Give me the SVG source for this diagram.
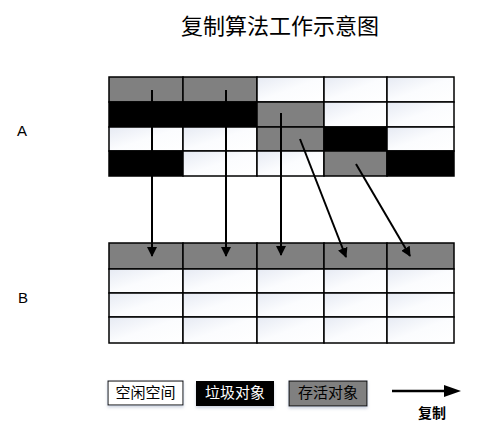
<svg xmlns="http://www.w3.org/2000/svg" width="503" height="429" viewBox="0 0 503 429">
<style>
.cjk{font-family:"Noto Sans CJK SC","Liberation Sans",sans-serif}
.lat{font-family:"Liberation Sans","DejaVu Sans",sans-serif}
.w{fill:url(#wg);stroke:#000;stroke-width:1.5}
.g{fill:#808080;stroke:#000;stroke-width:1.5}
.b{fill:#000;stroke:#000;stroke-width:1.5}
.conn{stroke:#000;stroke-width:2;fill:none;marker-end:url(#ah)}
</style>
<defs>
<linearGradient id="wg" x1="0" y1="0" x2="1" y2="1">
<stop offset="0" stop-color="#e6eaf3"/>
<stop offset="0.5" stop-color="#fbfcfe"/>
<stop offset="1" stop-color="#ffffff"/>
</linearGradient>
<marker id="ah" viewBox="0 0 10 10" refX="9" refY="5" markerWidth="5" markerHeight="5" orient="auto" markerUnits="strokeWidth">
<path d="M0,0 L10,5 L0,10 z" fill="#000"/>
</marker>
<filter id="sh" x="-20%" y="-20%" width="140%" height="160%">
<feDropShadow dx="0" dy="2" stdDeviation="1.5" flood-color="#9aa6c0" flood-opacity="0.5"/>
</filter>
</defs>
<rect width="503" height="429" fill="#fff"/>
<text class="cjk" x="280" y="34" font-size="22" text-anchor="middle">复制算法工作示意图</text>
<text class="lat" x="22" y="136" font-size="15" text-anchor="middle">A</text>
<text class="lat" x="23" y="303" font-size="15" text-anchor="middle">B</text>

<g id="gridA">
<rect class="g" x="109" y="77" width="74" height="25"/>
<rect class="g" x="183" y="77" width="74" height="25"/>
<rect class="w" x="257" y="77" width="67" height="25"/>
<rect class="w" x="324" y="77" width="63" height="25"/>
<rect class="w" x="387" y="77" width="67" height="25"/>
<rect class="b" x="109" y="102" width="74" height="25"/>
<rect class="b" x="183" y="102" width="74" height="25"/>
<rect class="g" x="257" y="102" width="67" height="25"/>
<rect class="w" x="324" y="102" width="63" height="25"/>
<rect class="w" x="387" y="102" width="67" height="25"/>
<rect class="w" x="109" y="127" width="74" height="24"/>
<rect class="w" x="183" y="127" width="74" height="24"/>
<rect class="g" x="257" y="127" width="67" height="24"/>
<rect class="b" x="324" y="127" width="63" height="24"/>
<rect class="w" x="387" y="127" width="67" height="24"/>
<rect class="b" x="109" y="151" width="74" height="25"/>
<rect class="w" x="183" y="151" width="74" height="25"/>
<rect class="w" x="257" y="151" width="67" height="25"/>
<rect class="g" x="324" y="151" width="63" height="25"/>
<rect class="b" x="387" y="151" width="67" height="25"/>
</g>

<g id="gridB">
<rect class="g" x="109" y="243" width="74" height="26"/>
<rect class="g" x="183" y="243" width="74" height="26"/>
<rect class="g" x="257" y="243" width="67" height="26"/>
<rect class="g" x="324" y="243" width="63" height="26"/>
<rect class="g" x="387" y="243" width="67" height="26"/>
<rect class="w" x="109" y="269" width="74" height="24"/>
<rect class="w" x="183" y="269" width="74" height="24"/>
<rect class="w" x="257" y="269" width="67" height="24"/>
<rect class="w" x="324" y="269" width="63" height="24"/>
<rect class="w" x="387" y="269" width="67" height="24"/>
<rect class="w" x="109" y="293" width="74" height="24"/>
<rect class="w" x="183" y="293" width="74" height="24"/>
<rect class="w" x="257" y="293" width="67" height="24"/>
<rect class="w" x="324" y="293" width="63" height="24"/>
<rect class="w" x="387" y="293" width="67" height="24"/>
<rect class="w" x="109" y="317" width="74" height="26"/>
<rect class="w" x="183" y="317" width="74" height="26"/>
<rect class="w" x="257" y="317" width="67" height="26"/>
<rect class="w" x="324" y="317" width="63" height="26"/>
<rect class="w" x="387" y="317" width="67" height="26"/>
</g>

<g id="connectors">
<line class="conn" x1="152" y1="90" x2="152" y2="256"/>
<line class="conn" x1="226" y1="90" x2="226" y2="256"/>
<line class="conn" x1="281" y1="113" x2="281" y2="255"/>
<line class="conn" x1="300" y1="139" x2="346" y2="257"/>
<line class="conn" x1="356" y1="164" x2="410" y2="256"/>
</g>

<g id="legend-free">
<rect x="108" y="381" width="75" height="24" fill="#fff" stroke="#000" stroke-width="1" filter="url(#sh)"/>
<text class="cjk" x="145.5" y="398" font-size="15" text-anchor="middle">空闲空间</text>
</g>
<g id="legend-garbage">
<rect x="196" y="381" width="78" height="25" fill="#000" filter="url(#sh)"/>
<text class="cjk" x="235" y="398" font-size="15" text-anchor="middle" fill="#fff">垃圾对象</text>
</g>
<g id="legend-live">
<rect x="289" y="381" width="78" height="25" fill="#808080" stroke="#000" stroke-width="1" filter="url(#sh)"/>
<text class="cjk" x="328" y="398" font-size="15" text-anchor="middle">存活对象</text>
</g>
<g id="legend-copy">
<line x1="392" y1="391" x2="444" y2="391" stroke="#000" stroke-width="2.5"/>
<path d="M444,385 L461,391 L444,397 z" fill="#000"/>
<text class="cjk" x="432" y="418" font-size="14" font-weight="bold" text-anchor="middle">复制</text>
</g>
</svg>
